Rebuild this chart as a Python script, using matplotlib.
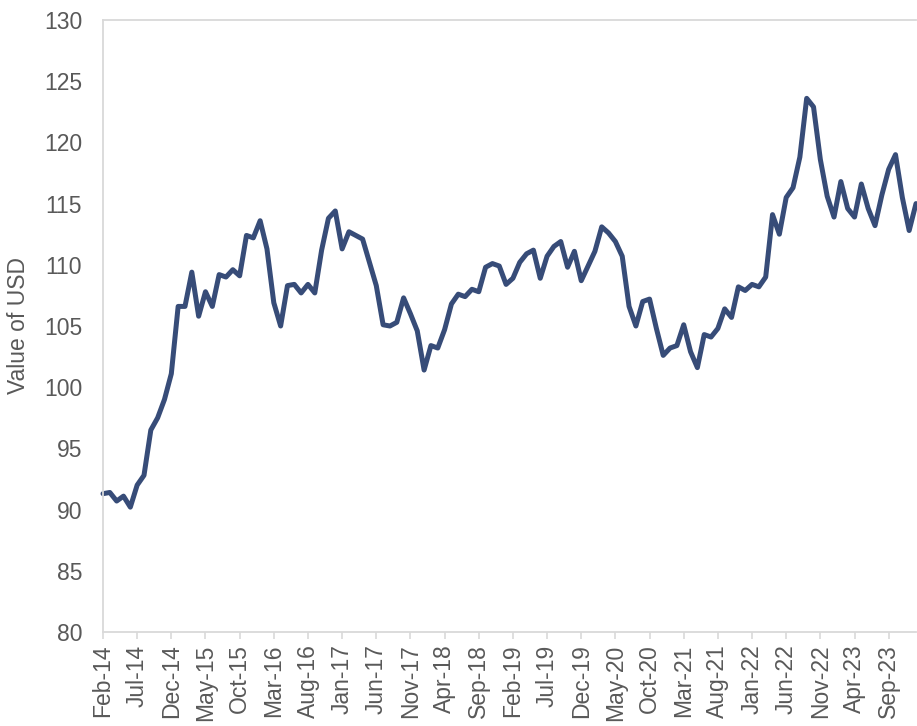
import matplotlib
matplotlib.use("Agg")
import matplotlib.pyplot as plt
import pandas as pd

plt.rcParams['font.family'] = ['Liberation Sans', 'DejaVu Sans']

months = pd.date_range("2014-02-01", "2024-01-01", freq="MS")
month_labels = [d.strftime("%b-%y") for d in months]

values = [
    91.3, 91.4, 90.7, 91.1, 90.2, 92.0, 92.8, 96.5, 97.5, 99.0,   # Feb-14..Nov-14
    101.1, 106.6, 106.6, 109.4, 105.8, 107.8, 106.6, 109.2, 109.0, 109.6,  # Dec-14..Sep-15
    109.1, 112.4, 112.2, 113.6, 111.3, 106.9, 105.0, 108.3, 108.4, 107.7,  # Oct-15..Jul-16
    108.4, 107.7, 111.2, 113.8, 114.4, 111.3, 112.7, 112.4, 112.1, 110.2,  # Aug-16..May-17
    108.3, 105.1, 105.0, 105.3, 107.3, 106.0, 104.6, 101.4, 103.4, 103.2,  # Jun-17..Mar-18
    104.7, 106.8, 107.6, 107.4, 108.0, 107.8, 109.8, 110.1, 109.9, 108.4,  # Apr-18..Jan-19
    108.9, 110.2, 110.9, 111.2, 108.9, 110.7, 111.5, 111.9, 109.8, 111.1,  # Feb-19..Nov-19
    108.7, 109.9, 111.1, 113.1, 112.6, 111.9, 110.7, 106.6, 105.0, 107.0,  # Dec-19..Sep-20
    107.2, 104.8, 102.6, 103.2, 103.4, 105.1, 102.9, 101.6, 104.3, 104.1,  # Oct-20..Jul-21
    104.8, 106.4, 105.7, 108.2, 107.9, 108.4, 108.2, 109.0, 114.1, 112.5,  # Aug-21..May-22
    115.5, 116.3, 118.8, 123.6, 122.9, 118.6, 115.6, 113.9, 116.8, 114.6,  # Jun-22..Mar-23
    113.9, 116.6, 114.6, 113.2, 115.7, 117.8, 119.0, 115.5, 112.8, 115.0,  # Apr-23..Jan-24
]

y_ticks = [80, 85, 90, 95, 100, 105, 110, 115, 120, 125, 130]
x_tick_step = 5

line_color = "#374C78"
text_color = "#595959"
axis_color = "#D9D9D9"

fig = plt.figure(figsize=(9.17, 7.26), dpi=100)
ax = fig.add_axes([103/917, 1-632/726, 813/917, 612/726])

x = list(range(len(values)))
ax.plot(x, values, color=line_color, lw=3.6, solid_joinstyle='round',
        solid_capstyle='round', clip_on=False)

ax.set_xlim(0, len(values)-1)
ax.set_ylim(80, 130)
ax.set_yticks(y_ticks)
ax.set_yticklabels([str(v) for v in y_ticks])
tick_pos = x[::x_tick_step]
ax.set_xticks(tick_pos)
ax.set_xticklabels([month_labels[i] for i in tick_pos], rotation=90)

ax.tick_params(axis='y', length=0, pad=15, labelsize=16.5, labelcolor=text_color)
ax.tick_params(axis='x', length=5, width=1.2, color=axis_color, pad=4,
               labelsize=16.5, labelcolor=text_color)

for s in ['left', 'top', 'bottom']:
    ax.spines[s].set_color(axis_color)
    ax.spines[s].set_linewidth(1.3)
ax.spines['right'].set_visible(False)

ax.set_ylabel("Value of USD", fontsize=16.5, color=text_color, labelpad=10)

fig.savefig("out.png", dpi=100)
